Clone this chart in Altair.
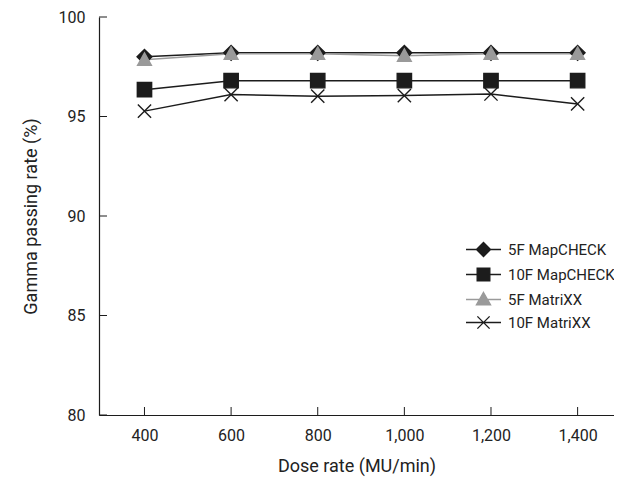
import altair as alt
import pandas as pd

dose = [400, 600, 800, 1000, 1200, 1400]
series_names = ["5F MapCHECK", "10F MapCHECK", "5F MatriXX", "10F MatriXX"]
mc5 = [98.0, 98.2, 98.2, 98.2, 98.2, 98.2]
mc10 = [96.35, 96.8, 96.8, 96.8, 96.8, 96.8]
mx5 = [97.85, 98.15, 98.15, 98.05, 98.15, 98.15]
mx10 = [95.27, 96.1, 96.02, 96.05, 96.13, 95.63]
y_ticks = [80, 85, 90, 95, 100]

rows = []
for name, vals in zip(series_names, [mc5, mc10, mx5, mx10]):
    for d, v in zip(dose, vals):
        rows.append({"dose": d, "rate": v, "series": name})
df = pd.DataFrame(rows)
order_map = {"5F MapCHECK": 0, "5F MatriXX": 1, "10F MapCHECK": 2, "10F MatriXX": 3}
df["draw"] = df["series"].map(order_map)

FONT = "Roboto, Liberation Sans, sans-serif"
BLACK = "#1c1c1c"
GRAY = "#9a9a9a"

line_colors = [BLACK, BLACK, GRAY, BLACK]
fill_colors = [BLACK, BLACK, GRAY, "transparent"]
stroke_colors = [BLACK, BLACK, GRAY, BLACK]

marker_paths = [
    "M0,-1L1,0L0,1L-1,0Z",
    "M-1,-1H1V1H-1Z",
    "M0,-1L1,0.8L-1,0.8Z",
    "M-1,-1L1,1M-1,1L1,-1",
]
marker_sizes = [220, 175, 200, 156]

legend_paths = [
    "M-2,0H2M0,-0.8L0.8,0L0,0.8L-0.8,0Z",
    "M-2,0H2M-0.72,-0.72H0.72V0.72H-0.72Z",
    "M-2,0H2M0,-0.8L0.8,0.6L-0.8,0.6Z",
    "M-2,0H2M-0.7,-0.7L0.7,0.7M-0.7,0.7L0.7,-0.7",
]

xscale = alt.Scale(domain=[295, 1484], nice=False, zero=False)
yscale = alt.Scale(domain=[80, 100], nice=False, zero=False)
sdom = series_names

base = alt.Chart(df)

lines = base.mark_line(strokeWidth=1.5).encode(
    x=alt.X("dose:Q", scale=xscale,
            axis=alt.Axis(values=dose, format=",d", tickSize=0, labelPadding=12,
                          title="Dose rate (MU/min)", titlePadding=14, grid=False)),
    y=alt.Y("rate:Q", scale=yscale,
            axis=alt.Axis(values=y_ticks, tickSize=0, labelPadding=14,
                          title="Gamma passing rate (%)", titlePadding=18, grid=False)),
    color=alt.Color("series:N", scale=alt.Scale(domain=sdom, range=line_colors), legend=None),
    order=alt.Order("draw:Q"),
    detail="series:N",
)

points = base.mark_point(strokeWidth=1.4, opacity=1).encode(
    x=alt.X("dose:Q", scale=xscale),
    y=alt.Y("rate:Q", scale=yscale),
    shape=alt.Shape("series:N", scale=alt.Scale(domain=sdom, range=marker_paths), legend=None),
    fill=alt.Fill("series:N", scale=alt.Scale(domain=sdom, range=fill_colors), legend=None),
    stroke=alt.Stroke("series:N", scale=alt.Scale(domain=sdom, range=stroke_colors), legend=None),
    size=alt.Size("series:N", scale=alt.Scale(domain=sdom, range=marker_sizes), legend=None),
    order=alt.Order("draw:Q"),
)

legend_layer = base.transform_filter("false").mark_point(size=306, strokeWidth=1.4, opacity=1).encode(
    x=alt.X("dose:Q", scale=xscale),
    y=alt.Y("rate:Q", scale=yscale),
    shape=alt.Shape("series:N", scale=alt.Scale(domain=sdom, range=legend_paths),
                    legend=alt.Legend(title=None, orient="none", legendX=375, legendY=223,
                                      labelFontSize=15, labelFont=FONT, labelColor="#222",
                                      symbolSize=306, rowPadding=5, labelOffset=15,
                                      symbolStrokeWidth=1.4)),
    fill=alt.Fill("series:N", scale=alt.Scale(domain=sdom, range=fill_colors), legend=None),
    stroke=alt.Stroke("series:N", scale=alt.Scale(domain=sdom, range=stroke_colors), legend=None),
)

tick_df = pd.DataFrame({"dose": dose})
xticks = alt.Chart(tick_df).mark_rule(color=BLACK, strokeWidth=1).encode(
    x=alt.X("dose:Q", scale=xscale),
    y=alt.value(398), y2=alt.value(390),
)
ytick_df = pd.DataFrame({"v": y_ticks})
yticks = alt.Chart(ytick_df).mark_rule(color=BLACK, strokeWidth=1).encode(
    y=alt.Y("v:Q", scale=yscale),
    x=alt.value(0), x2=alt.value(8),
)

chart = alt.layer(xticks, yticks, lines, points, legend_layer).resolve_scale(
    shape="independent", fill="independent", stroke="independent"
).properties(
    width=515, height=398,
    autosize=alt.AutoSizeParams(type="none"),
    padding={"left": 91, "top": 9, "right": 0, "bottom": 63},
).configure_view(stroke=None).configure_axis(
    domainColor=BLACK, domainWidth=1.2, labelFont=FONT, titleFont=FONT,
    labelFontSize=16, titleFontSize=18, labelColor="#222", titleColor="#222",
    titleFontWeight="normal",
)

chart.save("out.html", embed_options={"renderer": "svg", "actions": False})
